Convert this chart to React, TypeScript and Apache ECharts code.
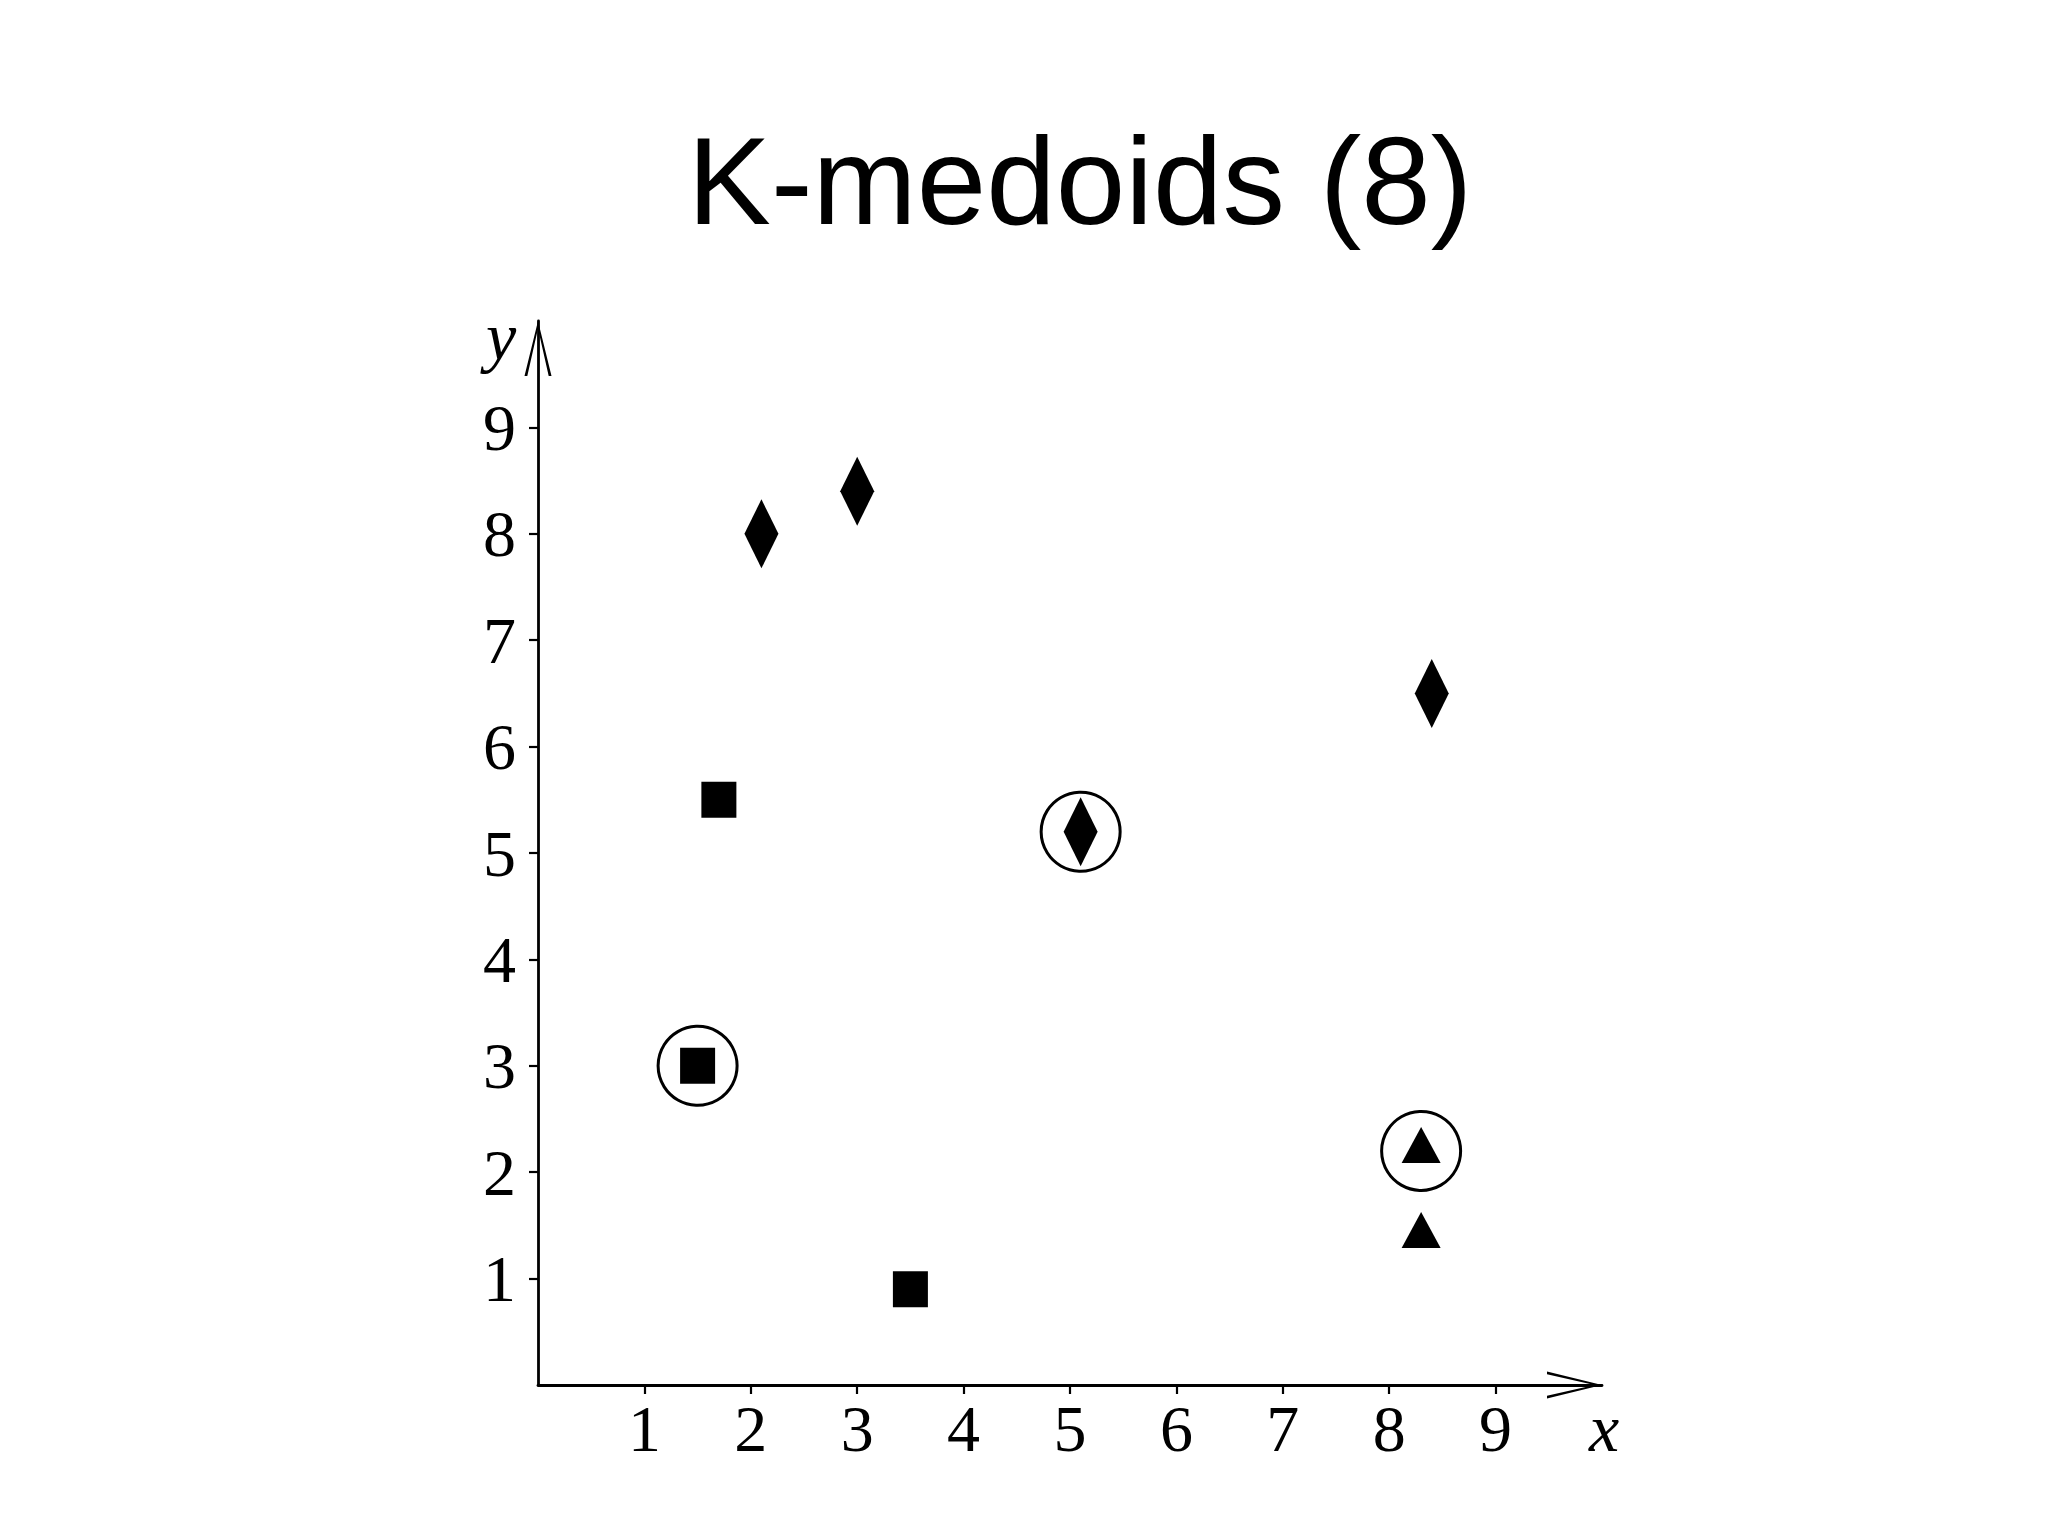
import React, { useEffect, useRef } from "react";
import * as echarts from "echarts";

const titleText = "K-medoids (8)";
const tickValues = [1, 2, 3, 4, 5, 6, 7, 8, 9];
const axisMax = 10;

const diamondX = [2.1, 3.0, 8.4, 5.1];
const diamondY = [8.0, 8.4, 6.5, 5.2];
const squareX = [1.7, 1.5, 3.5];
const squareY = [5.5, 3.0, 0.9];
const triangleX = [8.3, 8.3];
const triangleY = [2.2, 1.4];
const medoidX = [1.5, 5.1, 8.3];
const medoidY = [3.0, 5.2, 2.2];

const zip = (xs: number[], ys: number[]) => xs.map((x, i) => [x, ys[i]]);

const ARROW = "path://M13.5,0 L27,55 L24.2,55 L13.5,7.5 L2.8,55 L0,55 Z";
const SERIF = "'Liberation Serif', 'Times New Roman', serif";

export default function App() {
  const ref = useRef<HTMLDivElement>(null);
  useEffect(() => {
    if (!ref.current) return;
    const chart = echarts.init(ref.current, undefined, { renderer: "svg" });
    const axisCommon = {
      type: "value" as const,
      min: 0,
      max: axisMax,
      interval: 1,
      splitLine: { show: false },
      axisLine: {
        show: true,
        onZero: false,
        symbol: ["none", ARROW],
        symbolSize: [27, 55],
        symbolOffset: [0, -27.5],
        lineStyle: { color: "#000", width: 2.8 },
      },
      axisTick: {
        show: true,
        length: 9,
        customValues: tickValues,
        lineStyle: { color: "#000", width: 2.2 },
      },
    };
    const solid = { color: "#000", opacity: 1 };
    chart.setOption({
      animation: false,
      backgroundColor: "#ffffff",
      grid: { left: 538, top: 321, width: 1064, height: 1064 },
      xAxis: {
        ...axisCommon,
        axisLabel: {
          customValues: tickValues,
          margin: 10,
          fontFamily: SERIF,
          fontSize: 66,
          color: "#000",
        },
      },
      yAxis: {
        ...axisCommon,
        axisLabel: {
          customValues: tickValues,
          margin: 22,
          fontFamily: SERIF,
          fontSize: 66,
          color: "#000",
          padding: [12, 0, 0, 0],
        },
      },
      series: [
        {
          type: "scatter",
          name: "diamonds",
          symbol: "diamond",
          symbolSize: [34, 69],
          itemStyle: solid,
          data: zip(diamondX, diamondY),
        },
        {
          type: "scatter",
          name: "squares",
          symbol: "rect",
          symbolSize: [35, 36],
          itemStyle: solid,
          data: zip(squareX, squareY),
        },
        {
          type: "scatter",
          name: "triangles",
          symbol: "triangle",
          symbolSize: [39, 36],
          symbolOffset: [0, -6],
          itemStyle: solid,
          data: zip(triangleX, triangleY),
        },
        {
          type: "scatter",
          name: "medoids",
          symbol: "circle",
          symbolSize: 79,
          itemStyle: {
            color: "rgba(0,0,0,0)",
            borderColor: "#000",
            borderWidth: 3,
            opacity: 1,
          },
          data: zip(medoidX, medoidY),
        },
      ],
    });
    const xEnd = chart.convertToPixel({ gridIndex: 0 }, [axisMax, 0]) as number[];
    const yEnd = chart.convertToPixel({ gridIndex: 0 }, [0, axisMax]) as number[];
    chart.setOption({
      graphic: [
        {
          type: "text",
          x: 1080,
          y: 180,
          style: {
            text: titleText,
            fontSize: 125,
            fontFamily: "'Liberation Sans', Arial, sans-serif",
            fill: "#000",
            align: "center",
            verticalAlign: "middle",
          },
        },
        {
          type: "text",
          x: xEnd[0] + 2,
          y: xEnd[1] + 43,
          style: {
            text: "x",
            fontSize: 68,
            fontStyle: "italic",
            fontFamily: SERIF,
            fill: "#000",
            align: "center",
            verticalAlign: "middle",
          },
        },
        {
          type: "text",
          x: yEnd[0] - 37,
          y: yEnd[1] + 16,
          style: {
            text: "y",
            fontSize: 68,
            fontStyle: "italic",
            fontFamily: SERIF,
            fill: "#000",
            align: "center",
            verticalAlign: "middle",
          },
        },
      ],
    });
    return () => chart.dispose();
  }, []);
  return (
    <div
      ref={ref}
      style={{ position: "fixed", left: 0, top: 0, width: 2048, height: 1536, background: "#fff" }}
    />
  );
}
